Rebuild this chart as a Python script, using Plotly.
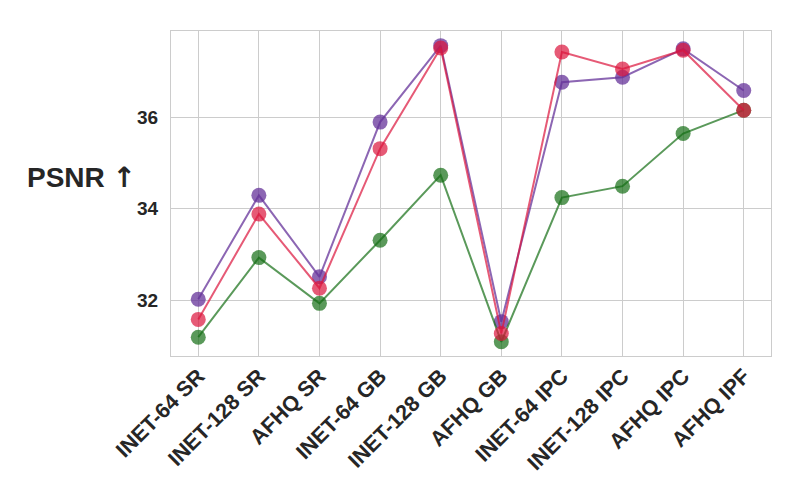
import plotly.graph_objects as go

tasks = [
    "INET-64 SR", "INET-128 SR", "AFHQ SR",
    "INET-64 GB", "INET-128 GB", "AFHQ GB",
    "INET-64 IPC", "INET-128 IPC", "AFHQ IPC", "AFHQ IPF",
]

psnr_purple = [32.02, 34.29, 32.51, 35.89, 37.56, 31.53, 36.76, 36.87, 37.49, 36.58]
psnr_green = [31.19, 32.93, 31.93, 33.31, 34.73, 31.09, 34.24, 34.49, 35.64, 36.15]
psnr_pink = [31.58, 33.88, 32.26, 35.31, 37.51, 31.27, 37.42, 37.05, 37.46, 36.15]

y_ticks = [32, 34, 36]

series = [
    (psnr_purple, "rgba(102, 51, 153, 0.75)"),
    (psnr_green, "rgba(20, 110, 20, 0.7)"),
    (psnr_pink, "rgba(220, 20, 60, 0.7)"),
]

text_color = "#262626"
grid_color = "#cccccc"
font_family = "Liberation Sans, DejaVu Sans, sans-serif"

fig = go.Figure()
for values, color in series:
    fig.add_trace(go.Scatter(
        x=list(range(len(tasks))),
        y=values,
        mode="lines+markers",
        line=dict(color=color, width=2),
        marker=dict(color=color, size=15, line=dict(width=0)),
        showlegend=False,
    ))

# page body has an 8px margin, so the figure is a bit smaller than the window
fig.add_annotation(
    text="PSNR <span style='font-family:DejaVu Sans'>↑</span>",
    xref="paper", yref="paper",
    x=-0.1495, y=0.55,
    xanchor="center", yanchor="middle",
    showarrow=False,
    font=dict(family=font_family, size=28, color=text_color, weight="bold"),
)

fig.update_layout(
    width=792,
    height=492,
    margin=dict(l=163, r=29, t=23, b=144),
    paper_bgcolor="white",
    plot_bgcolor="white",
    font=dict(family=font_family, color=text_color),
)
fig.update_xaxes(
    range=[-0.45, 9.45],
    tickmode="array",
    tickvals=list(range(len(tasks))),
    ticktext=tasks,
    tickangle=-45,
    tickfont=dict(size=21.5, weight="bold", color=text_color),
    showgrid=True, gridcolor=grid_color, gridwidth=1,
    showline=True, linecolor=grid_color, linewidth=1, mirror=True,
    zeroline=False,
    ticks="",
    ticklabelstandoff=-2,
    automargin=False,
)
fig.update_yaxes(
    range=[30.78, 37.88],
    tickmode="array",
    tickvals=y_ticks,
    tickfont=dict(size=19, weight="bold", color=text_color),
    showgrid=True, gridcolor=grid_color, gridwidth=1,
    showline=True, linecolor=grid_color, linewidth=1, mirror=True,
    zeroline=False,
    ticks="",
    ticklabelstandoff=8,
    automargin=False,
)

fig.write_html("out.html")
